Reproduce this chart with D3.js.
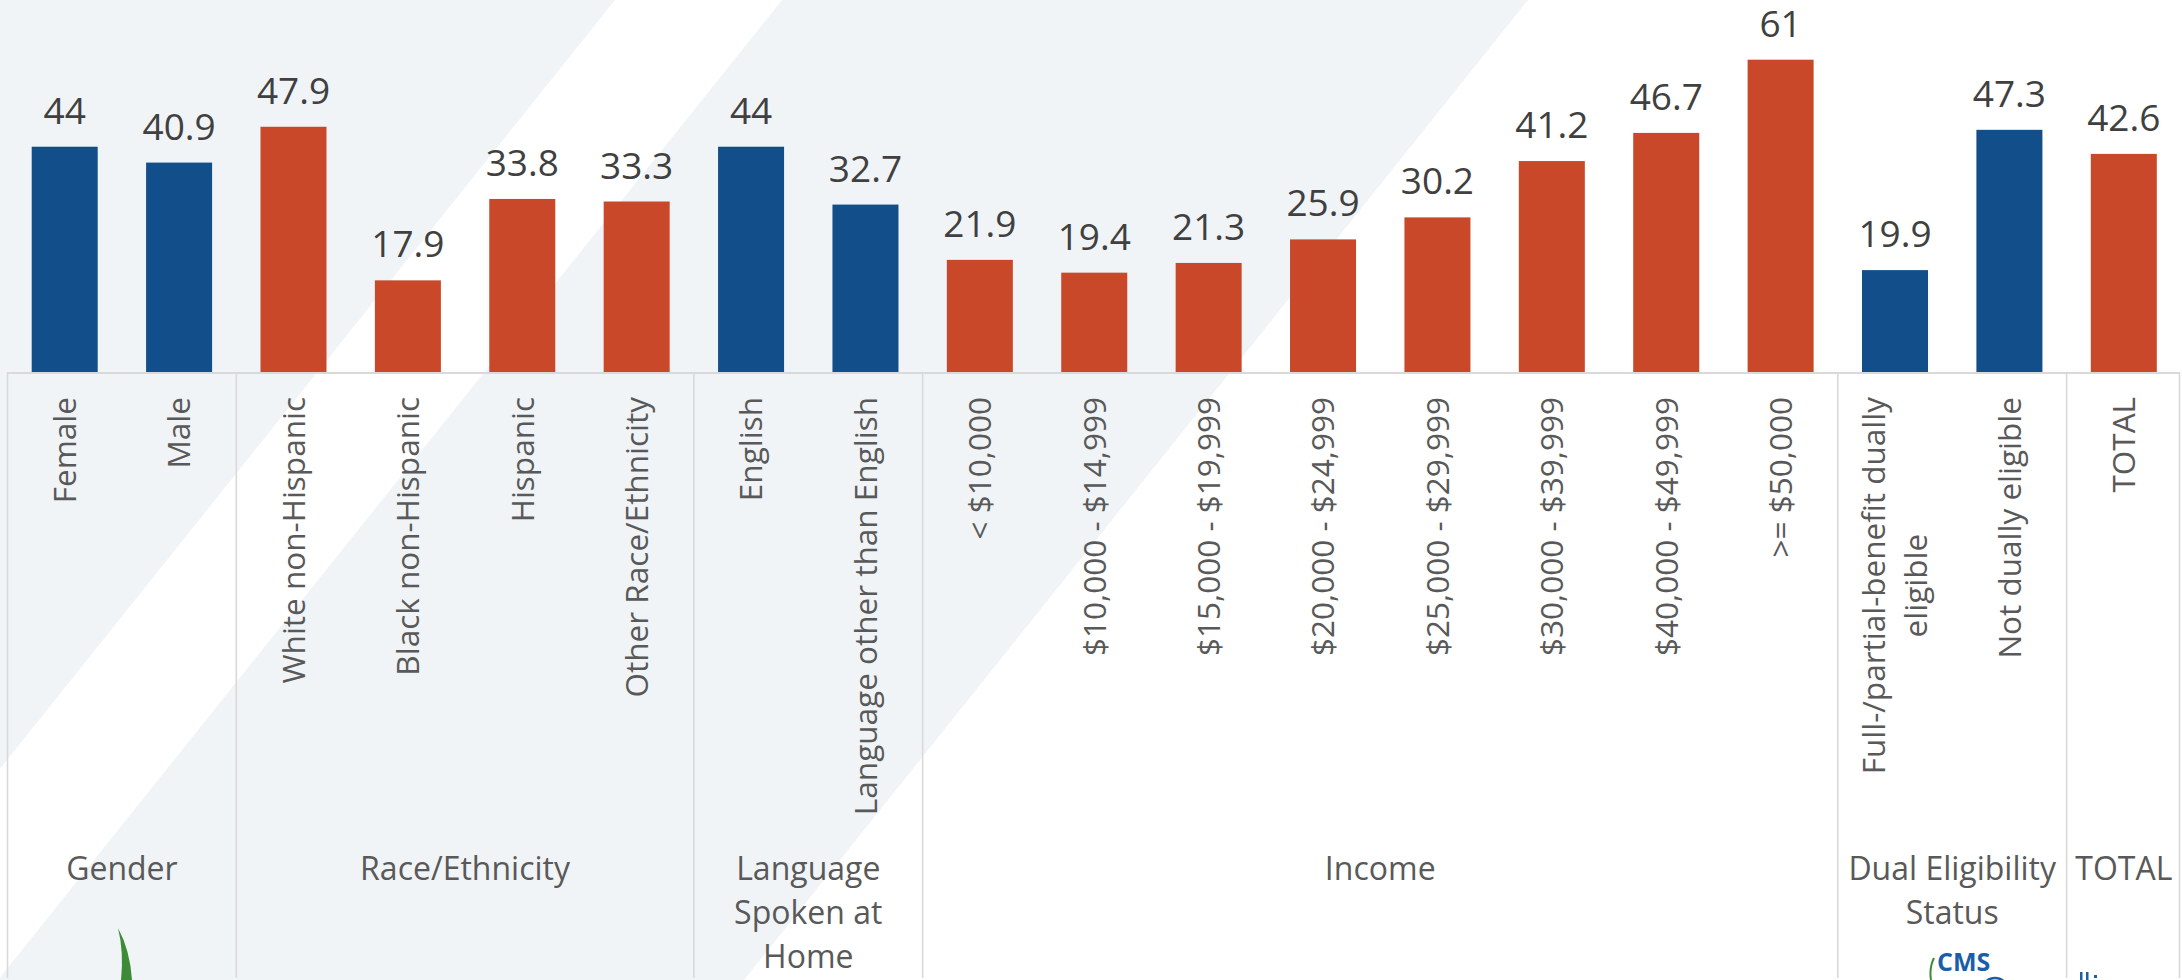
<!DOCTYPE html>
<html>
<head>
<meta charset="utf-8">
<script src="https://cdn.jsdelivr.net/npm/d3@7/dist/d3.min.js"></script>
<style>
  html, body { margin: 0; padding: 0; background: #ffffff; }
  svg { display: block; }
  text { font-family: "Open Sans", "Noto Sans", sans-serif; }
</style>
</head>
<body>
<svg id="chart" width="2182" height="980"></svg>
<script>
// Categories (x axis), in drawing order
const categories = [
  "Female", "Male",
  "White non-Hispanic", "Black non-Hispanic", "Hispanic", "Other Race/Ethnicity",
  "English", "Language other than English",
  "< $10,000", "$10,000 - $14,999", "$15,000 - $19,999", "$20,000 - $24,999",
  "$25,000 - $29,999", "$30,000 - $39,999", "$40,000 - $49,999", ">= $50,000",
  "Full-/partial-benefit dually eligible", "Not dually eligible",
  "TOTAL"
];

// How each category label breaks into lines
const categoryLines = [
  ["Female"], ["Male"],
  ["White non-Hispanic"], ["Black non-Hispanic"], ["Hispanic"], ["Other Race/Ethnicity"],
  ["English"], ["Language other than English"],
  ["< $10,000"], ["$10,000 - $14,999"], ["$15,000 - $19,999"], ["$20,000 - $24,999"],
  ["$25,000 - $29,999"], ["$30,000 - $39,999"], ["$40,000 - $49,999"], [">= $50,000"],
  ["Full-/partial-benefit dually", "eligible"], ["Not dually eligible"],
  ["TOTAL"]
];

// Group each category belongs to
const categoryGroup = [
  "Gender", "Gender",
  "Race/Ethnicity", "Race/Ethnicity", "Race/Ethnicity", "Race/Ethnicity",
  "Language Spoken at Home", "Language Spoken at Home",
  "Income", "Income", "Income", "Income", "Income", "Income", "Income", "Income",
  "Dual Eligibility Status", "Dual Eligibility Status",
  "TOTAL"
];

// Values (percent)
const values = [
  44, 40.9,
  47.9, 17.9, 33.8, 33.3,
  44, 32.7,
  21.9, 19.4, 21.3, 25.9, 30.2, 41.2, 46.7, 61,
  19.9, 47.3,
  42.6
];

// Group names and their wrapped lines under the columns
const groups = ["Gender", "Race/Ethnicity", "Language Spoken at Home", "Income", "Dual Eligibility Status", "TOTAL"];
const groupLines = [
  ["Gender"], ["Race/Ethnicity"], ["Language", "Spoken at", "Home"],
  ["Income"], ["Dual Eligibility", "Status"], ["TOTAL"]
];

const BLUE = "#114e8a", ORANGE = "#c9482a";
const color = d3.scaleOrdinal()
  .domain(groups)
  .range([BLUE, ORANGE, BLUE, ORANGE, BLUE, ORANGE]);

const W = 2182, H = 980;
const svg = d3.select("#chart");

// ---- background: light panel with diagonal white bands ----
const bg = svg.append("g");
bg.append("rect").attr("width", W).attr("height", H).attr("fill", "#ffffff");
const slope = 0.8;
const band = (x0, x1) => [[x0, 0], [x1, 0], [x1 - slope * H, H], [x0 - slope * H, H]];
bg.append("polygon").attr("points", band(-400, 615).join(" ")).attr("fill", "#f0f4f7");
bg.append("polygon").attr("points", band(782, 1528).join(" ")).attr("fill", "#f0f4f7");

// ---- scales ----
const x = d3.scaleBand()
  .domain(categories)
  .range([7.5, 2181])
  .paddingInner(0.423)
  .paddingOuter(0.2115);

const y = d3.scaleLinear().domain([0, 70]).range([372, 13.6]);

const data = categories.map((c, i) => ({
  cat: c, value: values[i], group: categoryGroup[i], lines: categoryLines[i]
}));

// ---- bars ----
svg.append("g").selectAll("rect")
  .data(data)
  .join("rect")
  .attr("x", d => x(d.cat))
  .attr("y", d => y(d.value))
  .attr("width", x.bandwidth())
  .attr("height", d => y(0) - y(d.value))
  .attr("fill", d => color(d.group));

// ---- value labels ----
svg.append("g").selectAll("text")
  .data(data)
  .join("text")
  .attr("x", d => x(d.cat) + x.bandwidth() / 2)
  .attr("y", d => y(d.value) - 23)
  .attr("text-anchor", "middle")
  .attr("font-size", 37)
  .attr("fill", "#404040")
  .text(d => d.value);

// ---- table grid under the axis ----
const half = x.step() * x.paddingInner() / 2;
const grid = svg.append("g").attr("stroke", "#d9d9d9").attr("fill", "none");

const groupSpans = groups.map(g => {
  const cats = data.filter(d => d.group === g);
  const left = x(cats[0].cat) - half;
  const right = x(cats[cats.length - 1].cat) + x.bandwidth() + half;
  return { g, left, right };
});

grid.append("line")
  .attr("x1", groupSpans[0].left).attr("x2", groupSpans[groupSpans.length - 1].right - 1.5)
  .attr("y1", y(0) + 1).attr("y2", y(0) + 1)
  .attr("stroke-width", 2);

const borders = groupSpans.map(s => s.left).concat([groupSpans[groupSpans.length - 1].right - 1.5]);
grid.selectAll("line.sep")
  .data(borders)
  .join("line")
  .attr("class", "sep")
  .attr("x1", d => d).attr("x2", d => d)
  .attr("y1", y(0)).attr("y2", H - 2)
  .attr("stroke-width", 1.6);

// ---- rotated category labels ----
const catG = svg.append("g").attr("fill", "#595959").attr("font-size", 31.5);
const labelTop = 397;
const lineGap = 42;
data.forEach(d => {
  const g = catG.append("g")
    .attr("transform", `translate(${x(d.cat) + x.bandwidth() / 2},${labelTop}) rotate(-90)`);
  const n = d.lines.length;
  const texts = d.lines.map((ln, i) =>
    g.append("text")
      .attr("y", (i - (n - 1) / 2) * lineGap)
      .attr("dy", "0.36em")
      .text(ln));
  const maxW = d3.max(texts, t => t.node().getComputedTextLength());
  texts.forEach(t => t.attr("text-anchor", "middle").attr("x", -maxW / 2));
});

// ---- group labels ----
const grpG = svg.append("g").attr("fill", "#595959").attr("font-size", 32).attr("text-anchor", "middle");
groupSpans.forEach((s, i) => {
  const t = grpG.append("text").attr("x", (s.left + s.right) / 2).attr("y", 880);
  groupLines[i].forEach((ln, j) => {
    t.append("tspan").attr("x", (s.left + s.right) / 2).attr("dy", j === 0 ? 0 : 44).text(ln);
  });
});

// ---- logos peeking in at the bottom edge ----
const logos = svg.append("g");
logos.append("path")
  .attr("d", "M118,928 Q130,950 132,980 L121,980 Q124,952 118,928 Z")
  .attr("fill", "#3d8b37");
logos.append("path")
  .attr("d", "M1934,958 Q1929,968 1931,980")
  .attr("stroke", "#3d8b37").attr("stroke-width", 2).attr("fill", "none");
logos.append("text")
  .attr("x", 1937).attr("y", 971)
  .attr("font-family", "Liberation Sans, Arial, sans-serif")
  .attr("font-weight", "bold").attr("font-size", 25)
  .attr("fill", "#1b5ea8")
  .text("CMS");
logos.append("circle")
  .attr("cx", 1995).attr("cy", 991).attr("r", 13)
  .attr("fill", "none").attr("stroke", "#1b5ea8").attr("stroke-width", 2.5);
logos.append("rect").attr("x", 2080).attr("y", 972).attr("width", 2.5).attr("height", 8).attr("fill", "#1b5ea8");
logos.append("rect").attr("x", 2086).attr("y", 972).attr("width", 2.5).attr("height", 8).attr("fill", "#1b5ea8");
logos.append("rect").attr("x", 2094).attr("y", 975).attr("width", 3).attr("height", 3).attr("fill", "#1b5ea8");
</script>
</body>
</html>
